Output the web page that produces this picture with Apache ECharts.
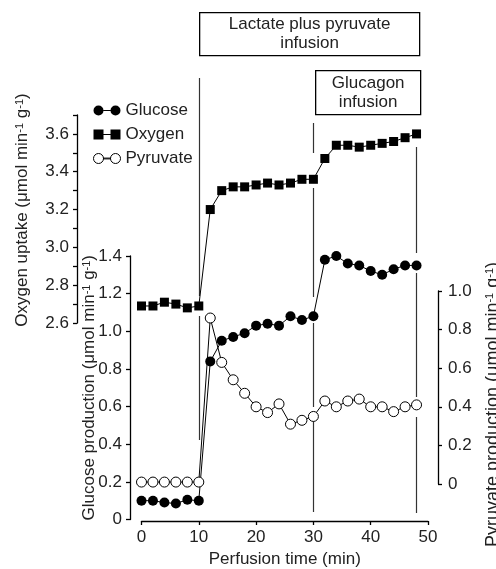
<!DOCTYPE html>
<html>
<head>
<meta charset="utf-8">
<script src="https://cdn.jsdelivr.net/npm/echarts@6/dist/echarts.min.js"></script>
<style>
html, body { margin: 0; padding: 0; background: #fff; }
#chart { width: 496px; height: 569px; }
</style>
</head>
<body>
<div id="chart"></div>
<script>
// perfusion time (min), one sample every 2 min
const times = [0, 2, 4, 6, 8, 10, 12, 14, 16, 18, 20, 22, 24, 26, 28, 30, 32, 34, 36, 38, 40, 42, 44, 46, 48];
const oxygen = [2.69, 2.69, 2.71, 2.70, 2.68, 2.69, 3.20, 3.30, 3.32, 3.32, 3.33, 3.34, 3.33, 3.34, 3.36, 3.36, 3.47, 3.54, 3.54, 3.53, 3.54, 3.55, 3.56, 3.58, 3.60];
const glucose = [0.10, 0.10, 0.09, 0.085, 0.105, 0.10, 0.84, 0.95, 0.97, 0.99, 1.03, 1.04, 1.03, 1.08, 1.06, 1.08, 1.38, 1.40, 1.36, 1.35, 1.32, 1.30, 1.33, 1.35, 1.35];
const pyruvate = [0.01, 0.01, 0.01, 0.01, 0.01, 0.01, 0.86, 0.63, 0.54, 0.47, 0.40, 0.37, 0.415, 0.31, 0.33, 0.35, 0.43, 0.40, 0.43, 0.44, 0.40, 0.40, 0.375, 0.40, 0.41];

const xTicks = [0, 10, 20, 30, 40, 50];
const oxygenTicks = [2.6, 2.8, 3.0, 3.2, 3.4, 3.6];
const glucoseTicks = [0, 0.2, 0.4, 0.6, 0.8, 1.0, 1.2, 1.4];
const pyruvateTicks = [0, 0.2, 0.4, 0.6, 0.8, 1.0];

// infusion start/stop markers (time) and the screen spans they are drawn over
const markerTimes = [10, 30, 48];
const markerSpans = [
  [[78, 296], [316, 440]],
  [[123, 153], [188, 297], [323, 407], [417, 512]],
  [[147, 253], [273, 397], [417, 513]]
];

const FONT = "'Liberation Sans', Arial, sans-serif";
const INK = '#222';
const FS = 17;

const chart = echarts.init(document.getElementById('chart'), null, { renderer: 'canvas' });

function pairs(ys) {
  return times.map((t, i) => [t, ys[i]]);
}

function axisName(label) {
  return '{t|' + label + ' (μmol min}{s|-1}{t| g}{s|-1}{t|)}';
}

function nameRich(size) {
  return {
    t: { fontSize: size, color: INK, fontFamily: FONT },
    s: { fontSize: Math.round(size * 0.62), color: INK, fontFamily: FONT, verticalAlign: 'top' }
  };
}

const markerLines = [];
markerTimes.forEach((t, i) => {
  markerSpans[i].forEach(s => {
    markerLines.push({ coords: [[t, s[0]], [t, s[1]]] });
  });
});

const gridX = { left: 141.5, right: 68, containLabel: false, outerBoundsMode: 'none' };
const hiddenX = gridIndex => ({ gridIndex, type: 'value', min: 0, max: 50, show: false });
const blackLine = { show: true, onZero: false, lineStyle: { color: '#000', width: 1.3 } };
const blackTick = { length: 4, lineStyle: { color: '#000', width: 1.3 } };

const option = {
  animation: false,
  textStyle: { fontFamily: FONT },
  grid: [
    { ...gridX, top: 115, bottom: 246 },   // oxygen
    { ...gridX, top: 256, bottom: 49.5 },  // glucose
    { ...gridX, top: 291, bottom: 85 },    // pyruvate
    { ...gridX, top: 0, bottom: 0 }        // infusion markers
  ],
  legend: {
    orient: 'vertical',
    left: 88,
    top: 97,
    itemWidth: 27,
    itemHeight: 10,
    itemGap: 7,
    selectedMode: false,
    textStyle: { fontSize: FS, color: INK, fontFamily: FONT },
    data: [
      { name: 'Glucose', icon: 'path://M0,5A5,5 0 1 1 10,5A5,5 0 1 1 0,5Z M10,4.4H17V5.6H10Z M17,5A5,5 0 1 1 27,5A5,5 0 1 1 17,5Z', itemStyle: { color: '#000' } },
      { name: 'Oxygen', icon: 'path://M0,0H10V10H0Z M10,4.4H17V5.6H10Z M17,0H27V10H17Z', itemStyle: { color: '#000' } },
      { name: 'Pyruvate', icon: 'path://M0,5A5,5 0 1 1 10,5A5,5 0 1 1 0,5Z M10,4.6H17V5.4H10Z M17,5A5,5 0 1 1 27,5A5,5 0 1 1 17,5Z', itemStyle: { color: '#fff', borderColor: '#000', borderWidth: 1 } }
    ]
  },
  xAxis: [
    hiddenX(0),
    {
      gridIndex: 1,
      type: 'value',
      min: 0,
      max: 50,
      interval: 10,
      offset: 1.5,
      name: 'Perfusion time (min)',
      nameLocation: 'middle',
      nameGap: 30,
      nameMoveOverlap: false,
      nameTextStyle: { fontSize: FS, color: INK },
      axisLine: blackLine,
      axisTick: blackTick,
      axisLabel: { fontSize: FS, color: INK, margin: 8, formatter: v => xTicks.includes(v) ? String(v) : '' },
      splitLine: { show: false }
    },
    hiddenX(2),
    hiddenX(3)
  ],
  yAxis: [
    {
      gridIndex: 0,
      type: 'value',
      min: 2.6,
      max: 3.7,
      interval: 0.1,
      offset: 64.5,
      name: axisName('Oxygen uptake'),
      nameLocation: 'middle',
      nameGap: 46,
      nameMoveOverlap: false,
      nameTextStyle: { rich: nameRich(FS), padding: [0, 0, 0, 18] },
      axisLine: blackLine,
      axisTick: blackTick,
      axisLabel: {
        fontSize: FS, color: INK, margin: 8,
        formatter: v => oxygenTicks.some(t => Math.abs(t - v) < 1e-6) ? v.toFixed(1) : ''
      },
      splitLine: { show: false }
    },
    {
      gridIndex: 1,
      type: 'value',
      min: 0,
      max: 1.4,
      interval: 0.2,
      offset: 11.5,
      name: axisName('Glucose production'),
      nameLocation: 'middle',
      nameGap: 32,
      nameMoveOverlap: false,
      nameTextStyle: { rich: nameRich(FS) },
      axisLine: blackLine,
      axisTick: blackTick,
      axisLabel: {
        fontSize: FS, color: INK, margin: 8,
        formatter: v => glucoseTicks.some(t => Math.abs(t - v) < 1e-6) ? (v === 0 ? '0' : v.toFixed(1)) : ''
      },
      splitLine: { show: false }
    },
    {
      gridIndex: 2,
      type: 'value',
      position: 'right',
      min: 0,
      max: 1.0,
      interval: 0.2,
      offset: 10,
      name: axisName('Pyruvate production'),
      nameLocation: 'middle',
      nameGap: 46,
      nameMoveOverlap: false,
      nameTextStyle: { rich: nameRich(18), padding: [0, 34, 0, 0] },
      axisLine: blackLine,
      axisTick: blackTick,
      axisLabel: {
        fontSize: FS, color: INK, margin: 10,
        formatter: v => pyruvateTicks.some(t => Math.abs(t - v) < 1e-6) ? (v === 0 ? '0' : v.toFixed(1)) : ''
      },
      splitLine: { show: false }
    },
    { gridIndex: 3, type: 'value', min: 0, max: 569, inverse: true, show: false }
  ],
  graphic: [
    {
      type: 'group',
      left: 199,
      top: 12,
      children: [
        { type: 'rect', shape: { x: 0, y: 0, width: 220, height: 43 }, style: { fill: '#fff', stroke: '#000', lineWidth: 1.3 } },
        { type: 'text', x: 110, y: 21.5, style: { text: 'Lactate plus pyruvate\ninfusion', font: FS + 'px ' + FONT, fill: INK, align: 'center', verticalAlign: 'middle', lineHeight: 19 } }
      ]
    },
    {
      type: 'group',
      left: 315,
      top: 70,
      children: [
        { type: 'rect', shape: { x: 0, y: 0, width: 105, height: 44 }, style: { fill: '#fff', stroke: '#000', lineWidth: 1.3 } },
        { type: 'text', x: 52.5, y: 22, style: { text: 'Glucagon\ninfusion', font: FS + 'px ' + FONT, fill: INK, align: 'center', verticalAlign: 'middle', lineHeight: 19 } }
      ]
    }
  ],
  series: [
    {
      name: 'Infusion',
      type: 'lines',
      coordinateSystem: 'cartesian2d',
      xAxisIndex: 3,
      yAxisIndex: 3,
      z: 1,
      silent: true,
      lineStyle: { color: '#333', width: 1.2, opacity: 1 },
      data: markerLines
    },
    {
      name: 'Oxygen',
      type: 'line',
      xAxisIndex: 0,
      yAxisIndex: 0,
      symbol: 'rect',
      symbolSize: 9,
      z: 3,
      itemStyle: { color: '#000' },
      lineStyle: { color: '#000', width: 1 },
      data: pairs(oxygen)
    },
    {
      name: 'Glucose',
      type: 'line',
      xAxisIndex: 1,
      yAxisIndex: 1,
      symbol: 'circle',
      symbolSize: 10,
      z: 3,
      itemStyle: { color: '#000' },
      lineStyle: { color: '#000', width: 1 },
      data: pairs(glucose)
    },
    {
      name: 'Pyruvate',
      type: 'line',
      xAxisIndex: 2,
      yAxisIndex: 2,
      symbol: 'circle',
      symbolSize: 10,
      z: 4,
      itemStyle: { color: '#fff', borderColor: '#000', borderWidth: 1 },
      lineStyle: { color: '#000', width: 1 },
      data: pairs(pyruvate)
    }
  ]
};

chart.setOption(option);
</script>
</body>
</html>
